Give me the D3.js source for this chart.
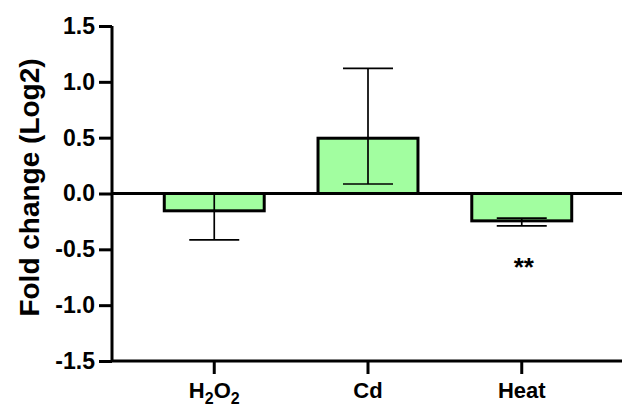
<!DOCTYPE html>
<html><head><meta charset="utf-8">
<script src="https://cdn.jsdelivr.net/npm/d3@7"></script>
<style>body{margin:0;background:#fff}svg{display:block}text{font-family:Arial,"Liberation Sans",sans-serif}</style>
</head><body>
<script>
const categories = ["H2O2", "Cd", "Heat"];
const means = [-0.155, 0.495, -0.245];
const errUpper = [0.0, 1.12, -0.22];
const errLower = [-0.415, 0.085, -0.29];
const yTicks = [-1.5, -1.0, -0.5, 0.0, 0.5, 1.0, 1.5];
const significance = ["", "", "**"];

const W = 622, H = 408;
const FONT = "Arial, 'Liberation Sans', sans-serif";
const svg = d3.select("body").append("svg").attr("width", W).attr("height", H);

const x = d3.scaleBand().domain(categories).range([112, 624]).paddingInner(0.35).paddingOuter(0.34);
const y = d3.scaleLinear().domain([-1.5, 1.5]).range([361, 26]);

// bars
svg.selectAll("rect.bar").data(categories).enter().append("rect")
  .attr("x", d => x(d))
  .attr("width", x.bandwidth())
  .attr("y", (d, i) => y(Math.max(0, means[i])))
  .attr("height", (d, i) => Math.abs(y(means[i]) - y(0)))
  .attr("fill", "#a2fea0")
  .attr("stroke", "#000")
  .attr("stroke-width", 3);

// error bars
const capW = 50;
categories.forEach((c, i) => {
  const cx = x(c) + x.bandwidth() / 2;
  const g = svg.append("g").attr("stroke", "#000").attr("stroke-width", 1.7);
  g.append("line").attr("x1", cx).attr("x2", cx).attr("y1", y(errUpper[i])).attr("y2", y(errLower[i]));
  g.append("line").attr("x1", cx - capW / 2).attr("x2", cx + capW / 2).attr("y1", y(errUpper[i])).attr("y2", y(errUpper[i]));
  g.append("line").attr("x1", cx - capW / 2).attr("x2", cx + capW / 2).attr("y1", y(errLower[i])).attr("y2", y(errLower[i]));
  if (significance[i]) {
    svg.append("text").attr("x", cx + 2).attr("y", y(errLower[i]) + 50)
      .attr("text-anchor", "middle").attr("font-size", 26).attr("font-weight", "bold")
      .style("font-family", FONT).text(significance[i]);
  }
});

// zero line
svg.append("line").attr("x1", 112).attr("x2", W).attr("y1", y(0)).attr("y2", y(0))
  .attr("stroke", "#000").attr("stroke-width", 3);

// y axis
const yAxis = d3.axisLeft(y).tickValues(yTicks).tickSize(13).tickPadding(4);
const gy = svg.append("g").attr("transform", "translate(112,0)").call(yAxis);
gy.attr("font-size", null).attr("font-family", null);
gy.select(".domain").attr("stroke-width", 3).attr("d", `M0,${y(1.5)}V${y(-1.5)}`);
gy.selectAll(".tick line").attr("stroke-width", 3);
gy.selectAll(".tick text").attr("font-size", 23).attr("font-weight", "bold").attr("fill", "#000")
  .style("font-family", FONT)
  .text(d => d3.format(".1f")(d).replace("−", "-"));

// x axis
const xAxis = d3.axisBottom(x).tickSize(13).tickPadding(6).tickFormat("");
const gx = svg.append("g").attr("transform", `translate(0,${y(-1.5)})`).call(xAxis);
gx.attr("font-size", null).attr("font-family", null);
gx.select(".domain").attr("stroke-width", 3).attr("d", `M112,0H${W}`);
gx.selectAll(".tick line").attr("stroke-width", 3);
gx.selectAll(".tick").each(function(d) {
  const t = d3.select(this).append("text").attr("y", 37).attr("text-anchor", "middle")
    .attr("font-size", 22).attr("font-weight", "bold").attr("fill", "#000")
    .style("font-family", FONT);
  if (d === "H2O2") {
    t.append("tspan").text("H");
    t.append("tspan").attr("font-size", 16).attr("dy", 6).text("2");
    t.append("tspan").attr("dy", -6).text("O");
    t.append("tspan").attr("font-size", 16).attr("dy", 6).text("2");
  } else {
    t.text(d);
  }
});

// y title
svg.append("text").attr("transform", `translate(39,${y(0) - 6}) rotate(-90)`)
  .attr("text-anchor", "middle").attr("font-size", 28).attr("font-weight", "bold")
  .style("font-family", FONT)
  .text("Fold change (Log2)");
</script>
</body></html>
